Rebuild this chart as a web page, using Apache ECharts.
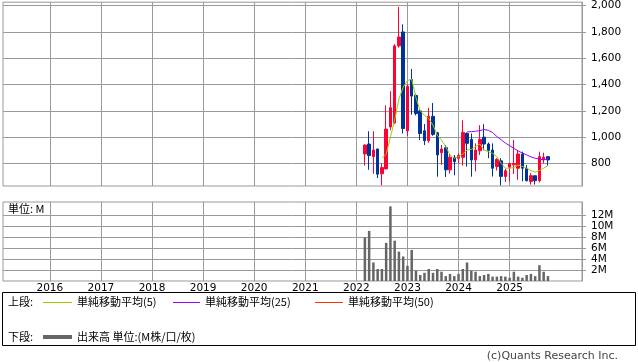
<!DOCTYPE html>
<html><head><meta charset="utf-8">
<script src="https://cdn.jsdelivr.net/npm/echarts@6/dist/echarts.min.js"></script>
<style>html,body{margin:0;padding:0;background:#fff}#c{width:638px;height:362px}</style>
</head><body><div id="c"></div>
<script>
// ---- data ----
const dataMonths = ['2022-03','2022-04','2022-05','2022-06','2022-07','2022-08','2022-09','2022-10','2022-11','2022-12',
  '2023-01','2023-02','2023-03','2023-04','2023-05','2023-06','2023-07','2023-08','2023-09','2023-10','2023-11','2023-12',
  '2024-01','2024-02','2024-03','2024-04','2024-05','2024-06','2024-07','2024-08','2024-09','2024-10','2024-11','2024-12',
  '2025-01','2025-02','2025-03','2025-04','2025-05','2025-06','2025-07','2025-08','2025-09','2025-10'];
const openP  = [872, 948, 852, 910, 722, 759,1078,1108,1693,1799,1048,1437,1317,1199,1048, 973,1158,1033, 882, 920, 752, 847, 840, 847,1028, 983, 827, 897,1000, 948, 902, 777, 820, 701, 772, 790, 764, 872, 764, 664, 707, 669, 827, 852];
const closeP = [940, 860, 902, 719, 769,1061,1224,1693,1761,1066,1387,1312,1179,1028, 973,1158,1021, 865, 910, 752, 847, 814, 862,1036, 953, 827, 902, 983, 948, 900, 764, 832, 702, 745, 800, 800, 872, 764, 669, 707, 669, 852, 847, 827];
const lowP   = [784, 752, 722, 689, 634, 755,1053,1100,1680,1028,1008,1171,1166, 978, 940, 957,1010, 700, 790, 697, 722, 710, 802, 784, 777, 700, 740, 865, 900, 840, 701, 747, 634, 660, 664, 720, 676, 664, 664, 640, 640, 656, 800, 782];
const highP  = [945,1045,1045, 912, 802,1241,1349,1706,1990,1857,1400,1518,1330,1210,1100,1222,1259,1040, 940, 940, 872, 865, 877,1128,1036,1028, 953,1091,1098, 960, 953, 840, 840, 760, 800, 978, 902, 890, 789, 727, 707, 890, 882, 857];
const ma5 =  [null,null,null,null, 840, 870,1000,1130,1290,1380,1430,1440,1300,1200,1166,1141,1091,1015, 978, 928, 865, 840, 852, 872, 902, 907, 928, 948, 902, 890, 877, 852, 802, 764, 764, 769, 789, 777, 764, 747, 734, 747, 764, 784];
const ma25 = [null,null,null,null,null,null,null,null,null,null,null,null,null,null,null,null,null,null,null,null,null,null,null,null,
  1040,1042,1045,1050,1058,1052,1035,1005, 980, 955, 935, 915, 895, 880, 865, 850, 840, 832, 830, 832];
const volumeM = [8.0, 9.2, 3.4, 2.2, 2.2, 7.0,13.7, 7.4, 5.4, 4.5, 2.8, 5.7, 1.9, 1.1, 1.5, 2.2, 1.5, 2.2, 1.7, 0.9, 1.3, 0.9,
  1.3, 2.2, 3.4, 1.9, 1.7, 0.9, 1.1, 1.3, 0.8, 0.8, 0.9, 0.8, 0.6, 1.7, 0.8, 0.6, 1.1, 1.3, 0.9, 2.9, 1.7, 0.9];
const priceTicks = [800, 1000, 1200, 1400, 1600, 1800, 2000];
const volumeTicks = [2, 4, 6, 8, 10, 12];
const yearLabels = ['2016','2017','2018','2019','2020','2021','2022','2023','2024','2025'];
const axisStart = [2015, 2], axisEnd = [2026, 6];

// ---- build axis categories (months) ----
const months = [];
for (let y = axisStart[0], m = axisStart[1]; y < axisEnd[0] || (y === axisEnd[0] && m <= axisEnd[1]); ) {
  months.push(y + '-' + String(m).padStart(2, '0'));
  m++; if (m > 12) { m = 1; y++; }
}
function place(arr) {
  const out = months.map(() => '-');
  dataMonths.forEach((d, i) => { const k = months.indexOf(d); if (k >= 0 && arr[i] != null) out[k] = arr[i]; });
  return out;
}
const candle = months.map(() => '-');
dataMonths.forEach((d, i) => { const k = months.indexOf(d); candle[k] = [openP[i], closeP[i], lowP[i], highP[i]]; });
const isYear = (i, v) => v.endsWith('-01') && yearLabels.includes(v.slice(0, 4));

const GRID = '#999999';
const FONT = "'DejaVu Sans', sans-serif";
const JP = "'Noto Sans CJK JP', sans-serif";

const chart = echarts.init(document.getElementById('c'), null, { renderer: 'canvas' });
chart.setOption({
  animation: false,
  backgroundColor: '#fff',
  grid: [
    { left: 3, right: 56, top: 1, height: 185, show: true, borderColor: GRID, borderWidth: 1, backgroundColor: 'transparent' },
    { left: 3, right: 56, top: 202, height: 79, show: true, borderColor: GRID, borderWidth: 1, backgroundColor: 'transparent' }
  ],
  xAxis: [
    { type: 'category', gridIndex: 0, data: months, boundaryGap: false,
      axisLine: { show: false }, axisTick: { show: false }, axisLabel: { show: false },
      splitLine: { show: true, interval: isYear, lineStyle: { color: GRID, width: 1 } } },
    { type: 'category', gridIndex: 1, data: months, boundaryGap: false,
      axisLine: { show: false }, axisTick: { show: false },
      axisLabel: { show: true, interval: isYear, formatter: v => v.slice(0, 4), margin: 2,
        color: '#000', fontFamily: FONT, fontSize: 10.5 },
      splitLine: { show: true, interval: isYear, lineStyle: { color: GRID, width: 1 } } }
  ],
  yAxis: [
    { type: 'value', gridIndex: 0, position: 'right', min: 629, max: 2025,
      axisLine: { show: true, lineStyle: { color: GRID } },
      axisTick: { show: true, length: 4, customValues: priceTicks, lineStyle: { color: GRID } },
      axisLabel: { customValues: priceTicks, margin: 9, color: '#000', fontFamily: FONT, fontSize: 10.5,
        formatter: v => v.toLocaleString('en-US') },
      splitLine: { show: true, lineStyle: { color: GRID, width: 1 } } },
    { type: 'value', gridIndex: 1, position: 'right', min: 0, max: 14.5,
      axisLine: { show: true, lineStyle: { color: GRID } },
      axisTick: { show: true, length: 4, customValues: volumeTicks, lineStyle: { color: GRID } },
      axisLabel: { customValues: volumeTicks, margin: 9, color: '#000', fontFamily: FONT, fontSize: 10.5,
        formatter: v => v + 'M' },
      splitLine: { show: true, lineStyle: { color: GRID, width: 1 } } }
  ],
  series: [
    { type: 'candlestick', xAxisIndex: 0, yAxisIndex: 0, data: candle, barWidth: 3,
      itemStyle: { color: '#ff0033', color0: '#003399', borderColor: '#ff0033', borderColor0: '#003399', borderWidth: 1 } },
    { type: 'line', xAxisIndex: 0, yAxisIndex: 0, data: place(ma5), symbol: 'none', connectNulls: false,
      lineStyle: { color: '#99cc00', width: 1 } },
    { type: 'line', xAxisIndex: 0, yAxisIndex: 0, data: place(ma25), symbol: 'none', connectNulls: false,
      lineStyle: { color: '#9900ff', width: 1 } },
    { type: 'bar', xAxisIndex: 1, yAxisIndex: 1, data: place(volumeM), barWidth: 2.5,
      itemStyle: { color: '#666666' } }
  ],
  graphic: [
    { type: 'text', left: 8, top: 203, style: { text: '単位: M', font: '11px ' + JP, fill: '#000' } },
    { type: 'rect', shape: { x: 2.5, y: 292.5, width: 633, height: 53 }, style: { fill: 'none', stroke: '#000', lineWidth: 1 } },
    { type: 'text', x: 8, y: 302, style: { text: '上段:', font: '11px ' + JP, fill: '#000', textVerticalAlign: 'middle' } },
    { type: 'line', shape: { x1: 43, y1: 302.5, x2: 72, y2: 302.5 }, style: { stroke: '#99cc00', lineWidth: 1 } },
    { type: 'text', x: 77, y: 302, style: { text: '単純移動平均(5)', font: '11px ' + JP, fill: '#000', textVerticalAlign: 'middle' } },
    { type: 'line', shape: { x1: 173, y1: 302.5, x2: 200, y2: 302.5 }, style: { stroke: '#9900ff', lineWidth: 1 } },
    { type: 'text', x: 205, y: 302, style: { text: '単純移動平均(25)', font: '11px ' + JP, fill: '#000', textVerticalAlign: 'middle' } },
    { type: 'line', shape: { x1: 315, y1: 302.5, x2: 343, y2: 302.5 }, style: { stroke: '#ff3300', lineWidth: 1 } },
    { type: 'text', x: 348, y: 302, style: { text: '単純移動平均(50)', font: '11px ' + JP, fill: '#000', textVerticalAlign: 'middle' } },
    { type: 'text', x: 8, y: 337, style: { text: '下段:', font: '11px ' + JP, fill: '#000', textVerticalAlign: 'middle' } },
    { type: 'line', shape: { x1: 43, y1: 337, x2: 72, y2: 337 }, style: { stroke: '#666666', lineWidth: 4 } },
    { type: 'text', x: 77, y: 337, style: { text: '出来高 単位:(M株/口/枚)', font: '11px ' + JP, fill: '#000', textVerticalAlign: 'middle' } },
    { type: 'text', x: 618, y: 356, style: { text: '(c)Quants Research Inc.', font: '11px ' + FONT, fill: '#444', textAlign: 'right', textVerticalAlign: 'middle' } }
  ]
});
</script></body></html>
